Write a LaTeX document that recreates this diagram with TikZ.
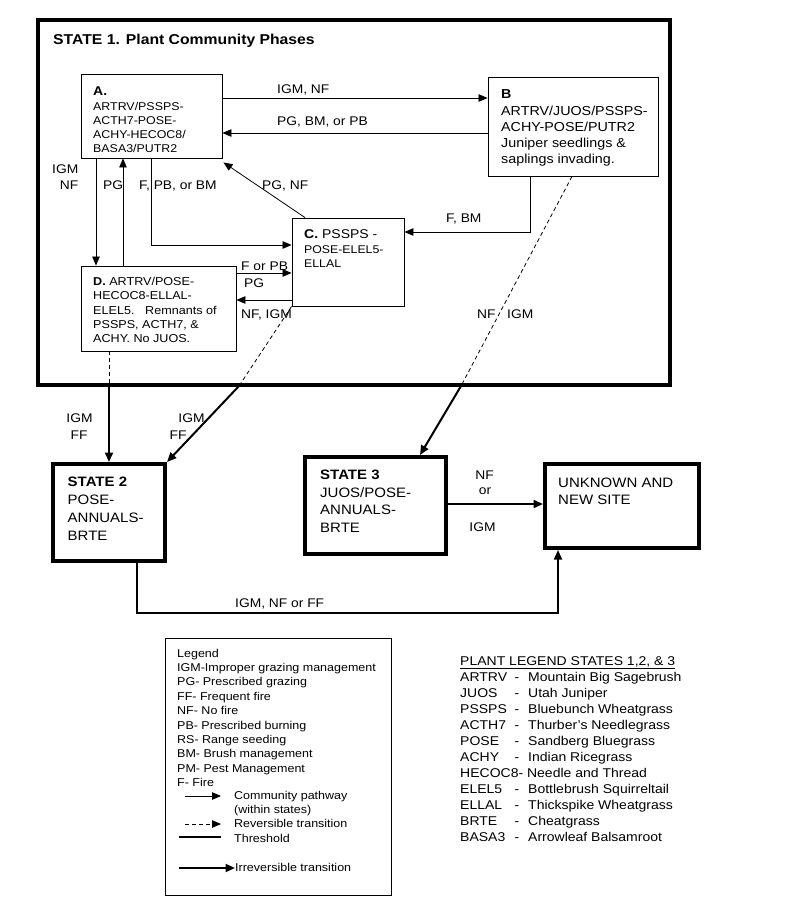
\documentclass[tikz,border=0pt]{standalone}
\usepackage{fontspec}
\setmainfont[FakeStretch=1.1]{Liberation Sans}
\usetikzlibrary{arrows.meta,calc}
\newcommand\setfs[1]{\fontsize{#1}{#1}\selectfont}
\begin{document}
\begin{tikzpicture}[x=1pt,y=-1pt,
  box/.style={draw,line width=0.9pt,inner sep=0pt},
  bigbox/.style={draw,line width=4pt,inner sep=0pt},
  txt/.style={anchor=base west,inner sep=0pt},
  ctxt/.style={anchor=base,inner sep=0pt},
  lbl/.style={anchor=base west,inner sep=0pt,font=\setfs{12.55}},
  clbl/.style={anchor=base,inner sep=0pt,font=\setfs{12.55}},
  pw/.style={line width=0.8pt,-{Triangle[length=9pt,width=7.5pt]}},
  thr/.style={line width=2pt,-{Triangle[length=9.5pt,width=8pt]}},
  dsh/.style={line width=0.8pt,dash pattern=on 4pt off 3pt}]
\path[fill=white,use as bounding box] (0,0) rectangle (800,906);

% ---------- boxes
\node[draw,line width=4.5pt,inner sep=0pt,minimum width=632pt,minimum height=365pt] (S1) at (354,202.5) {};
\node[box,minimum width=141pt,minimum height=84pt] (A) at (151.5,116) {};
\node[box,minimum width=170pt,minimum height=99pt] (B) at (573,126.5) {};
\node[box,minimum width=112pt,minimum height=88pt] (C) at (348,262) {};
\node[box,minimum width=155pt,minimum height=85pt] (D) at (158.5,308.5) {};
\node[bigbox,minimum width=112pt,minimum height=97pt] (S2) at (109,512.5) {};
\node[bigbox,minimum width=141pt,minimum height=97pt] (S3) at (375.5,505.5) {};
\node[bigbox,minimum width=154pt,minimum height=84pt] (U) at (622,506) {};
\node[box,line width=0.8pt,minimum width=226pt,minimum height=257pt] (L) at (278,766.5) {};

% ---------- texts in state 1
\node[txt,font=\bfseries\setfs{14.3}] (title) at (53,44) {STATE 1.\hspace{6pt}Plant Community Phases};
\node[txt,font=\bfseries\setfs{12.73}] (Ah) at (93,95) {A.};
\foreach \t [count=\i] in {ARTRV/PSSPS-, ACTH7-POSE-, ACHY-HECOC8/, BASA3/PUTR2}
  \node[txt,font=\setfs{11.27}] (a\i) at (93,110.4+14.1*\i-14.1) {\t};
\node[txt,font=\bfseries\setfs{13}] (Bh) at (501,98.1) {B};
\foreach \t [count=\i] in {ARTRV/JUOS/PSSPS-, ACHY-POSE/PUTR2, Juniper seedlings \&, saplings invading.}
  \node[txt,font=\setfs{13}] (b\i) at (501,115.8+15.9*\i-15.9) {\t};
\node[txt,font=\setfs{12.73}] (Ch) at (304,238) {\textbf{C.} PSSPS -};
\foreach \t [count=\i] in {POSE-ELEL5-, ELLAL}
  \node[txt,font=\setfs{11.18}] (c\i) at (304,253.7+14*\i-14) {\t};
\node[txt,font=\setfs{11.45}] (Dh) at (93,285.5) {\textbf{D.} ARTRV/POSE-};
\foreach \t [count=\i] in {HECOC8-ELLAL-, ELEL5.\hspace{10.7pt}Remnants of, {PSSPS, ACTH7, \&}, ACHY. No JUOS.}
  \node[txt,font=\setfs{11.45}] (d\i) at (93,299.8+14.3*\i-14.3) {\t};

% ---------- state texts
\node[txt,font=\bfseries\setfs{13.64}] (S2h) at (67.5,486.4) {STATE 2};
\foreach \t [count=\i] in {POSE-, ANNUALS-, BRTE}
  \node[txt,font=\setfs{13.64}] (s2\i) at (67.5,504.4+18*\i-18) {\t};
\node[txt,font=\bfseries\setfs{13.64}] (S3h) at (320,479.4) {STATE 3};
\foreach \t [count=\i] in {JUOS/POSE-, ANNUALS-, BRTE}
  \node[txt,font=\setfs{13.64}] (s3\i) at (320,497+17.5*\i-17.5) {\t};
\node[txt,font=\setfs{13.64}] (u1) at (558,487) {UNKNOWN AND};
\node[txt,font=\setfs{13.64}] (u2) at (558,504.4) {NEW SITE};

% ---------- connectors within state 1
\draw[pw] (A.east |- 0,98) -- (B.west |- 0,98);
\draw[pw] (B.west |- 0,133) -- (A.east |- 0,133);
\draw[pw] (A.south -| 96,0) -- (D.north -| 96,0);
\draw[pw] (D.north -| 123,0) -- (A.south -| 123,0);
\draw[pw] (A.south -| 151,0) |- (C.west |- 0,245);
\draw[pw] (C.north -| 305,0) -- ($(A.south east)+(1,4)$);
\draw[pw] (B.south -| 530,0) |- (C.east |- 0,232);
\draw[pw] (D.east |- 0,273) -- (C.west |- 0,273);
\draw[pw] (C.west |- 0,300) -- (D.east |- 0,300);

% ---------- transitions
\coordinate (k1) at (239,386);
\coordinate (k2) at (109,386);
\coordinate (k3) at (461,386);
\draw[dsh] (C.south west) -- (k1);
\draw[thr] (k1) -- (S2.north east);
\draw[dsh] (D.south -| 109,0) -- (k2);
\draw[thr] (k2) -- (S2.north);
\draw[dsh] (B.south -| 572,0) -- (k3);
\draw[thr] (k3) -- (S3.north -| 420,0);
\draw[thr] (S3.east |- 0,504) -- (U.west |- 0,504);
\draw[thr,line width=1.7pt] (S2.south -| 137,0) -- ++(0,50) -| (U.south -| 558,0);

% ---------- connector labels
\node[lbl] (l1) at (277,93.6) {IGM, NF};
\node[lbl] (l2) at (277,125.4) {PG, BM, or PB};
\node[anchor=base east,inner sep=0pt,font=\setfs{12.55}] (l3) at (78.5,173.4) {IGM};
\node[anchor=base east,inner sep=0pt,font=\setfs{12.55}] (l4) at (78.5,189.4) {NF};
\node[lbl] (l5) at (103,189.4) {PG};
\node[lbl] (l6) at (139,189.4) {F, PB, or BM};
\node[lbl] (l7) at (262,189.4) {PG, NF};
\node[lbl] (l8) at (446,222.4) {F, BM};
\node[lbl] (l9) at (241,270) {F or PB};
\node[lbl] (l10) at (244,287) {PG};
\node[lbl] (l11) at (241,318.4) {NF, IGM};
\node[lbl] (l12) at (477,318.4) {NF};
\node[lbl] (l13) at (507,318.4) {IGM};
\node[clbl] (l14) at (79.5,422.4) {IGM};
\node[clbl] (l15) at (79,439) {FF};
\node[clbl] (l16) at (191.5,422.4) {IGM};
\node[clbl] (l17) at (178,439) {FF};
\node[lbl] (l18) at (235,607) {IGM, NF or FF};
\node[clbl] (l19) at (484.5,479) {NF};
\node[clbl] (l20) at (485,494.6) {or};
\node[clbl] (l21) at (482.5,531) {IGM};

% ---------- legend
\foreach \t [count=\i] in {Legend, IGM-Improper grazing management, PG- Prescribed grazing, FF- Frequent fire, NF- No fire, PB- Prescribed burning, RS- Range seeding, BM- Brush management, PM- Pest Management, F- Fire}
  \node[txt,font=\setfs{11.36}] (g\i) at (177,657+14.4*\i-14.4) {\t};
\coordinate (m1a) at (185,796); \coordinate (m1b) at (221,796);
\coordinate (m2a) at (185,824); \coordinate (m2b) at (221,824);
\coordinate (m3a) at (179,837); \coordinate (m3b) at (221,837);
\coordinate (m4a) at (179,868); \coordinate (m4b) at (235,868);
\draw[pw] (m1a) -- (m1b);
\draw[dsh,-{Triangle[length=9pt,width=7.5pt]}] (m2a) -- (m2b);
\draw[line width=2.6pt] (m3a) -- (m3b);
\draw[thr] (m4a) -- (m4b);
\node[txt,font=\setfs{11.36}] (h1) at (234,799.3) {Community pathway};
\node[txt,font=\setfs{11.36}] (h2) at (234,813.7) {(within states)};
\node[txt,font=\setfs{11.36}] (h3) at (234,827.7) {Reversible transition};
\node[txt,font=\setfs{11.36}] (h4) at (234,842.3) {Threshold};
\node[txt,font=\setfs{11.36}] (h5) at (235,871.7) {Irreversible transition};

% ---------- plant legend
\node[txt,font=\setfs{12.73}] (pt) at (460,665) {\underline{PLANT LEGEND STATES 1,2, \& 3}};
\foreach \i/\ab/\de in {1/ARTRV/Mountain Big Sagebrush, 2/JUOS/Utah Juniper, 3/PSSPS/Bluebunch Wheatgrass, 4/ACTH7/Thurber’s Needlegrass, 5/POSE/Sandberg Bluegrass, 6/ACHY/Indian Ricegrass, 8/ELEL5/Bottlebrush Squirreltail, 9/ELLAL/Thickspike Wheatgrass, 10/BRTE/Cheatgrass, 11/BASA3/Arrowleaf Balsamroot}{
  \node[txt,font=\setfs{12.73}] (pa\i) at (460,681+16.07*\i-16.07) {\ab};
  \node[ctxt,font=\setfs{12.73}] (pm\i) at (517,681+16.07*\i-16.07) {-};
  \node[txt,font=\setfs{12.73}] (pd\i) at (528,681+16.07*\i-16.07) {\de};
}
\node[txt,font=\setfs{12.73}] (pa7) at (460,777.4) {HECOC8- Needle and Thread};
\end{tikzpicture}
\end{document}
